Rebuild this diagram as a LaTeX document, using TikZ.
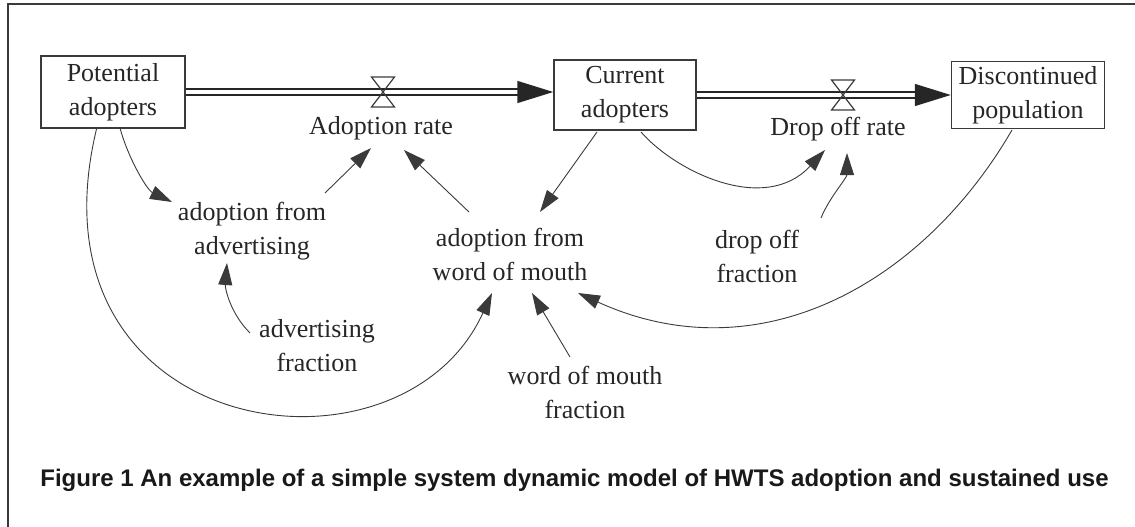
\documentclass[tikz,border=0pt]{standalone}
\usepackage{fontspec}
\setmainfont{Liberation Serif}
\newfontfamily\captionfont{Liberation Sans}
\usetikzlibrary{arrows.meta, positioning}
\definecolor{inkgray}{HTML}{3A3A3A}
\tikzset{
	x=1pt, y=1pt, % one unit is one pixel of the figure
	every node/.style={font=\fontsize{26}{34}\selectfont, align=center, text=black!85},
	stock/.style={draw=inkgray, line width=1.5pt, inner sep=0pt}, % boxes for the stocks
	aux/.style={inner sep=1pt}, % plain text variables
	link/.style={draw=inkgray, line width=0.9pt, -{Triangle[length=22pt,width=14pt]}}, % causal links
	pipe/.style={draw=black!85, double=white, line width=1.5pt, double distance=4.5pt, -{Triangle[length=36pt,width=22pt]}}, % flows
	valve/.style={draw=inkgray, line width=1.2pt},
}

\begin{document}
\begin{tikzpicture}
	\useasboundingbox (0,0) rectangle (1135,-527);
	\draw[inkgray, line width=1.5pt] (8,-527) -- (8,-4) -- (1135,-4);

	\node[stock, minimum width=144pt, minimum height=72pt] (pot) at (113,-92) {Potential\\adopters};
	\node[stock, minimum width=142pt, minimum height=70pt] (cur) at (625,-95) {Current\\adopters};
	\node[stock, minimum width=153pt, minimum height=67pt] (dis) at (1028,-95) {Discontinued\\population};

	\draw[pipe] (pot.east) -- (pot.east -| cur.west);
	\draw[pipe] (cur.east) -- (dis.west);
	\coordinate (v1) at (383,-92);
	\coordinate (v2) at (843,-95);
	\draw[valve] (v1) ++(-11.5,15) -- ++(23,0) -- ++(-23,-30) -- ++(23,0) -- cycle;
	\draw[valve] (v2) ++(-11.5,15) -- ++(23,0) -- ++(-23,-30) -- ++(23,0) -- cycle;

	\node[aux] (ar) at (381,-128) {Adoption rate};
	\node[aux] (dr) at (838,-129) {Drop off rate};
	\node[aux] (aa) at (252,-231.5) {adoption from\\advertising};
	\node[aux] (aw) at (510,-254) {adoption from\\word of mouth};
	\node[aux] (af) at (317,-346) {advertising\\fraction};
	\node[aux] (wf) at (585,-392) {word of mouth\\fraction};
	\node[aux] (df) at (757,-256.5) {drop off\\fraction};

	\draw[link] ([shift={(7,-36)}]pot.center) .. controls +(8,-30) and +(-25,12) .. ([shift={(-80,29.5)}]aa.center);
	\draw[link] ([shift={(73,38.5)}]aa.center) -- ([shift={(-10,-20)}]ar.center);
	\draw[link] ([shift={(-41,42)}]aw.center) -- ([shift={(23,-22)}]ar.center);
	\draw[link] ([shift={(-28,-37)}]cur.center) -- ([shift={(30,42)}]aw.center);
	\draw[link] ([shift={(16,-37)}]cur.center) .. controls +(35,-40) and +(-60,-65) .. ([shift={(-13,-21)}]dr.center);
	\draw[link] ([shift={(64,38.5)}]df.center) .. controls +(8,20) and +(0,-25) .. ([shift={(9,-24)}]dr.center);
	\draw[link] ([shift={(-16,-35)}]dis.center) .. controls +(-90,-155) and +(180,-82) .. ([shift={(68,-39)}]aw.center);
	\draw[link] ([shift={(-67,13)}]af.center) .. controls +(-20,20) and +(-2,-25) .. ([shift={(-25,-31.5)}]aa.center);
	\draw[link] ([shift={(-15,35)}]wf.center) -- ([shift={(22,-39)}]aw.center);
	\draw[link] ([shift={(-16,-35)}]pot.center) .. controls +(-77,-313) and +(-92,-202) .. ([shift={(-18,-39)}]aw.center);

	\node[font=\captionfont\bfseries\fontsize{24}{28}\selectfont, text=black!90] (cap) at (574.5,-480) {Figure 1 An example of a simple system dynamic model of HWTS adoption and sustained use};
\end{tikzpicture}
\end{document}
